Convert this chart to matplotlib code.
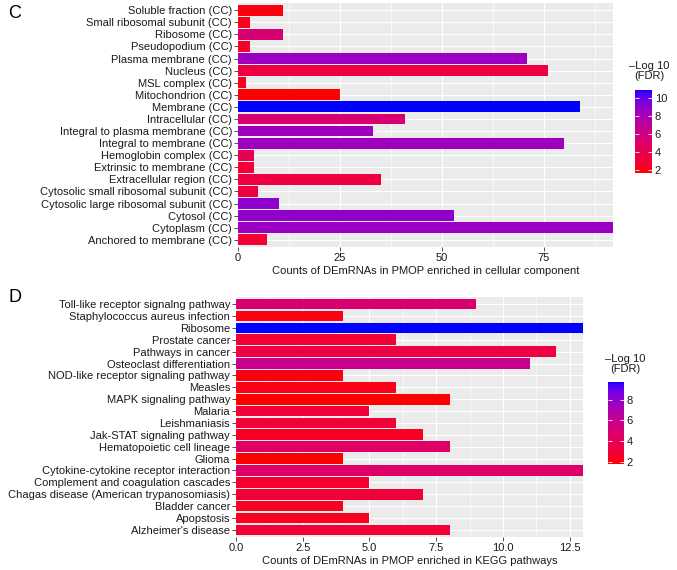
import numpy as np
import matplotlib
matplotlib.use("Agg")
import matplotlib.pyplot as plt
from matplotlib.colors import ListedColormap, Normalize
from matplotlib.ticker import MultipleLocator

plt.rcParams['font.family'] = ['Liberation Sans', 'DejaVu Sans']

# panel C: cellular component (listed top to bottom)
cc_terms = ["Soluble fraction (CC)", "Small ribosomal subunit (CC)", "Ribosome (CC)",
            "Pseudopodium (CC)", "Plasma membrane (CC)", "Nucleus (CC)", "MSL complex (CC)",
            "Mitochondrion (CC)", "Membrane (CC)", "Intracellular (CC)",
            "Integral to plasma membrane (CC)", "Integral to membrane (CC)",
            "Hemoglobin complex (CC)", "Extrinsic to membrane (CC)", "Extracellular region (CC)",
            "Cytosolic small ribosomal subunit (CC)", "Cytosolic large ribosomal subunit (CC)",
            "Cytosol (CC)", "Cytoplasm (CC)", "Anchored to membrane (CC)"]
cc_counts = [11, 3, 11, 3, 71, 76, 2, 25, 84, 41, 33, 80, 4, 4, 35, 5, 10, 53, 92, 7]
cc_logfdr = [2.0, 2.2, 5.4, 2.7, 8.5, 3.5, 2.4, 1.7, 10.9, 5.4, 8.4, 8.4, 4.2, 3.1, 3.4, 3.5,
             9.0, 8.9, 8.6, 3.0]

# panel D: KEGG pathways (listed top to bottom)
kegg_terms = ["Toll-like receptor signalng pathway", "Staphylococcus aureus infection",
              "Ribosome", "Prostate cancer", "Pathways in cancer", "Osteoclast differentiation",
              "NOD-like receptor signaling pathway", "Measles", "MAPK signaling pathway",
              "Malaria", "Leishmaniasis", "Jak-STAT signaling pathway",
              "Hematopoietic cell lineage", "Glioma", "Cytokine-cytokine receptor interaction",
              "Complement and coagulation cascades", "Chagas disease (American trypanosomiasis)",
              "Bladder cancer", "Apopstosis", "Alzheimer's disease"]
kegg_counts = [9, 4, 13, 6, 12, 11, 4, 6, 8, 5, 6, 7, 8, 4, 13, 5, 7, 4, 5, 8]
kegg_logfdr = [4.9, 2.1, 9.7, 2.9, 3.4, 5.9, 2.0, 2.2, 1.8, 3.0, 3.0, 2.5, 4.5, 1.8, 4.6,
               2.7, 3.1, 2.4, 2.3, 3.0]


def srgb_to_lab(rgb):
    c = np.asarray(rgb, float)
    lin = np.where(c <= 0.04045, c / 12.92, ((c + 0.055) / 1.055) ** 2.4)
    m = np.array([[0.4124, 0.3576, 0.1805], [0.2126, 0.7152, 0.0722], [0.0193, 0.1192, 0.9505]])
    xyz = m @ lin / np.array([0.95047, 1.0, 1.08883])
    f = np.where(xyz > 0.008856, np.cbrt(xyz), 7.787 * xyz + 16 / 116)
    return np.array([116 * f[1] - 16, 500 * (f[0] - f[1]), 200 * (f[1] - f[2])])


def lab_to_srgb(lab):
    L, a, b = lab
    fy = (L + 16) / 116
    f = np.array([fy + a / 500, fy, fy - b / 200])
    xyz = np.where(f ** 3 > 0.008856, f ** 3, (f - 16 / 116) / 7.787) * np.array([0.95047, 1.0, 1.08883])
    mi = np.array([[3.2406, -1.5372, -0.4986], [-0.9689, 1.8758, 0.0415], [0.0557, -0.2040, 1.0570]])
    lin = np.clip(mi @ xyz, 0, 1)
    c = np.where(lin <= 0.0031308, 12.92 * lin, 1.055 * lin ** (1 / 2.4) - 0.055)
    return np.clip(c, 0, 1)


# red -> blue gradient interpolated in Lab space (like ggplot's scale_fill_gradient)
lab_lo = srgb_to_lab([1, 0, 0])
lab_hi = srgb_to_lab([0, 0, 1])
cmap = ListedColormap([lab_to_srgb(lab_lo + t * (lab_hi - lab_lo)) for t in np.linspace(0, 1, 256)])

W, H = 677, 570
fig = plt.figure(figsize=(W / 100, H / 100), dpi=100)


def px_axes(x0, y0, x1, y1):
    return fig.add_axes([x0 / W, 1 - y1 / H, (x1 - x0) / W, (y1 - y0) / H])


def panel(ax, cax, terms, counts, vals, xmax, major, xlabel, cticks, title_x, title_y):
    n = len(terms)
    pos = np.arange(n)[::-1]
    norm = Normalize(min(vals), max(vals))
    ax.set_facecolor('#EBEBEB')
    ax.barh(pos, counts, height=0.9, color=cmap(norm(np.array(vals))), zorder=3)
    ax.set_xlim(0, xmax)
    ax.set_ylim(-0.6, n - 0.4)
    ax.xaxis.set_major_locator(MultipleLocator(major))
    ax.xaxis.set_minor_locator(MultipleLocator(major / 2))
    ax.set_yticks(pos)
    ax.set_yticklabels(terms, fontsize=8, color='#1a1a1a')
    ax.grid(True, which='major', color='white', lw=0.85, zorder=1)
    ax.grid(True, which='minor', axis='x', color='white', lw=0.45, zorder=1)
    ax.set_axisbelow(True)
    for s in ax.spines.values():
        s.set_visible(False)
    ax.tick_params(axis='both', which='major', length=2.8, width=0.6, color='#333333',
                   labelsize=8, labelcolor='#1a1a1a', pad=1.5)
    ax.tick_params(axis='x', which='minor', length=0)
    ax.set_xlabel(xlabel, fontsize=8, color='#1a1a1a', labelpad=2)

    sm = plt.cm.ScalarMappable(norm=norm, cmap=cmap)
    cb = fig.colorbar(sm, cax=cax, ticks=cticks)
    cb.outline.set_visible(False)
    cb.ax.yaxis.set_ticks_position('both')
    cb.ax.tick_params(length=3, width=0.6, color='white', direction='in', labelsize=8,
                      labelcolor='#1a1a1a', pad=2, labelleft=False, labelright=True)
    fig.text(title_x / W, 1 - title_y / H, "\u2013Log 10\n(FDR)", ha='center', va='top',
             fontsize=8, color='#1a1a1a', linespacing=1.0)


ax1 = px_axes(238, 3, 613, 247)
cax1 = px_axes(635, 90, 652, 173)
panel(ax1, cax1, cc_terms, cc_counts, cc_logfdr, max(cc_counts), 25,
      "Counts of DEmRNAs in PMOP enriched in cellular component", [2, 4, 6, 8, 10], 649, 61)

ax2 = px_axes(236, 297, 583, 537)
cax2 = px_axes(608, 382, 624, 464)
panel(ax2, cax2, kegg_terms, kegg_counts, kegg_logfdr, max(kegg_counts), 2.5,
      "Counts of DEmRNAs in PMOP enriched in KEGG pathways", [2, 4, 6, 8], 625, 354)
ax2.xaxis.set_major_formatter(matplotlib.ticker.FormatStrFormatter('%.1f'))

fig.text(8 / W, 1 - 14 / H, "C", fontsize=13, va='center', ha='left')
fig.text(8 / W, 1 - 297 / H, "D", fontsize=13, va='center', ha='left')

fig.savefig("out.png", dpi=100)
